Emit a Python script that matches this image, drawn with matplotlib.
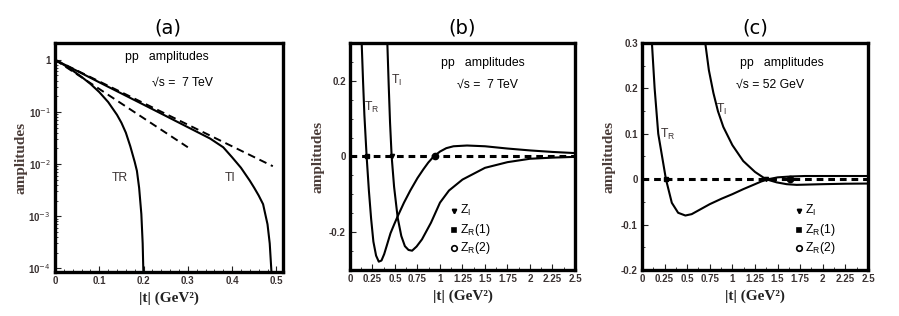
import matplotlib
matplotlib.use("Agg")
from matplotlib import pyplot as plt
from matplotlib.ticker import MultipleLocator, FixedLocator, FixedFormatter, LogLocator, NullFormatter

# ---- panel (a): log amplitudes at sqrt(s) = 7 TeV ----
a_t_R = [0, 0.02, 0.04, 0.06, 0.08, 0.10, 0.12, 0.14, 0.15, 0.16, 0.17, 0.18, 0.185, 0.19, 0.195, 0.198, 0.2]
a_T_R = [1.0, 0.80, 0.62, 0.47, 0.345, 0.24, 0.155, 0.088, 0.062, 0.040, 0.022, 0.011, 0.0074, 0.0035, 0.0011, 0.0003, 0.00006]
a_t_I = [0, 0.05, 0.1, 0.15, 0.2, 0.25, 0.3, 0.35, 0.38, 0.4, 0.42, 0.44, 0.45, 0.46, 0.47, 0.48, 0.485, 0.49]
a_T_I = [1.0, 0.61, 0.37, 0.226, 0.138, 0.084, 0.051, 0.031, 0.021, 0.0135, 0.0085, 0.0048, 0.0035, 0.0025, 0.0017, 0.0007, 0.0003, 0.00006]
a_dash_R_t = [0, 0.3]
a_dash_R = [1.0, 0.021]
a_dash_I_t = [0, 0.492]
a_dash_I = [1.0, 0.0091]
a_xticks = [0, 0.1, 0.2, 0.3, 0.4, 0.5]
a_xlabels = ["0", "0.1", "0.2", "0.3", "0.4", "0.5"]
a_yticks = [1e-4, 1e-3, 1e-2, 1e-1, 1]
a_ylabels = ["10$^{-4}$", "10$^{-3}$", "10$^{-2}$", "10$^{-1}$", "1"]

# ---- panel (b): linear amplitudes at 7 TeV ----
b_t_R = [0.13, 0.145, 0.16, 0.185, 0.21, 0.235, 0.26, 0.29, 0.32, 0.35, 0.38, 0.407, 0.45, 0.49, 0.53, 0.6, 0.67, 0.75, 0.815, 0.87, 0.93, 1.0, 1.07, 1.15, 1.3, 1.5, 1.75, 2.0, 2.25, 2.5]
b_T_R = [0.30, 0.20, 0.11, 0.0, -0.09, -0.165, -0.225, -0.262, -0.278, -0.275, -0.258, -0.237, -0.203, -0.18, -0.158, -0.122, -0.09, -0.057, -0.034, -0.016, 0.0, 0.013, 0.022, 0.027, 0.029, 0.027, 0.021, 0.016, 0.012, 0.009]
b_t_I = [0.415, 0.43, 0.445, 0.463, 0.49, 0.53, 0.57, 0.61, 0.65, 0.69, 0.74, 0.8, 0.9, 1.0, 1.1, 1.25, 1.5, 1.75, 2.0, 2.25, 2.5]
b_T_I = [0.30, 0.19, 0.09, 0.0, -0.08, -0.162, -0.21, -0.237, -0.247, -0.249, -0.238, -0.219, -0.175, -0.122, -0.09, -0.061, -0.030, -0.015, -0.006, -0.003, -0.001]
b_zeros_I = [0.463]
b_zeros_R1 = [0.185]
b_zeros_R2 = [0.944]
b_yticks = [-0.2, 0, 0.2]
b_ylabels = ["-0.2", "0", "0.2"]

# ---- panel (c): linear amplitudes at 52 GeV ----
c_t_R = [0.11, 0.14, 0.18, 0.265, 0.33, 0.40, 0.48, 0.55, 0.65, 0.75, 0.88, 1.0, 1.12, 1.25, 1.32, 1.4, 1.5, 1.65, 1.8, 2.0, 2.25, 2.5]
c_T_R = [0.30, 0.20, 0.10, 0.0, -0.052, -0.074, -0.080, -0.077, -0.066, -0.055, -0.043, -0.033, -0.022, -0.011, -0.005, 0.0, 0.004, 0.006, 0.007, 0.007, 0.007, 0.007]
c_t_I = [0.70, 0.74, 0.79, 0.84, 0.9, 1.0, 1.12, 1.25, 1.37, 1.49, 1.6, 1.71, 2.0, 2.25, 2.5]
c_T_I = [0.30, 0.24, 0.19, 0.15, 0.115, 0.075, 0.04, 0.016, 0.0, -0.007, -0.011, -0.0125, -0.011, -0.010, -0.0096]
c_zeros_I = [1.37]
c_zeros_R1 = [0.265]
c_zeros_R2 = [1.64]
c_yticks = [-0.2, -0.1, 0, 0.1, 0.2, 0.3]
c_ylabels = ["-0.2", "-0.1", "0", "0.1", "0.2", "0.3"]

lin_xticks = [0, 0.25, 0.5, 0.75, 1, 1.25, 1.5, 1.75, 2, 2.25, 2.5]
lin_xlabels = ["0", "0.25", "0.5", "0.75", "1", "1.25", "1.5", "1.75", "2", "2.25", "2.5"]

tick_font = dict(family="Liberation Sans", weight="bold", size=7)
lab_font = dict(family="Liberation Serif", weight="bold", size=11)
txt_font = dict(family="Liberation Sans", size=8.8)
ink = "#3a3232"

fig = plt.figure(figsize=(8.99, 3.16), dpi=100)
ax_a = fig.add_axes([0.0612, 0.1392, 0.2536, 0.7247])
ax_b = fig.add_axes([0.3893, 0.1456, 0.2503, 0.7184])
ax_c = fig.add_axes([0.7141, 0.1456, 0.2514, 0.7184])

def style(ax):
    for s in ax.spines.values():
        s.set_linewidth(2.4)
    ax.tick_params(which="both", direction="in", top=False, right=False, colors="#222222",
                   labelcolor=ink, pad=3)
    ax.tick_params(which="major", length=4, width=0.8)
    ax.tick_params(which="minor", length=2, width=0.6)
    for lab in ax.get_xticklabels() + ax.get_yticklabels():
        lab.set_fontfamily(tick_font["family"])
        lab.set_fontweight(tick_font["weight"])
        lab.set_fontsize(tick_font["size"])
    ax.set_xlabel("|t| (GeV\u00b2)", color="#222222", labelpad=4, **lab_font)
    ax.set_ylabel("amplitudes", color="#4a3c38", labelpad=4, **lab_font)

# (a)
ax_a.set_yscale("log")
ax_a.plot(a_t_R, a_T_R, color="black", lw=1.5)
ax_a.plot(a_t_I, a_T_I, color="black", lw=1.5)
ax_a.plot(a_dash_R_t, a_dash_R, color="black", lw=1.4, ls=(0, (4, 2.5)))
ax_a.plot(a_dash_I_t, a_dash_I, color="black", lw=1.4, ls=(0, (4, 2.5)))
ax_a.set_xlim(0, 0.515)
ax_a.set_ylim(8.5e-5, 2.1)
ax_a.set_xticks(a_xticks)
ax_a.set_xticklabels(a_xlabels)
ax_a.xaxis.set_minor_locator(MultipleLocator(0.02))
ax_a.yaxis.set_major_locator(FixedLocator(a_yticks))
ax_a.yaxis.set_major_formatter(FixedFormatter(a_ylabels))
ax_a.yaxis.set_minor_locator(LogLocator(base=10, subs=range(2, 10)))
ax_a.yaxis.set_minor_formatter(NullFormatter())
style(ax_a)
ax_a.yaxis.set_label_coords(-0.122, 0.5)
ax_a.text(0.49, 0.94, "pp   amplitudes", transform=ax_a.transAxes, ha="center", va="center", **txt_font)
ax_a.text(0.557, 0.825, "\u221as =  7 TeV", transform=ax_a.transAxes, ha="center", va="center", **txt_font)
ax_a.text(0.285, 0.41, "TR", transform=ax_a.transAxes, ha="center", va="center", color=ink, **txt_font)
ax_a.text(0.767, 0.41, "TI", transform=ax_a.transAxes, ha="center", va="center", color=ink, **txt_font)

# (b) and (c)
def linear_panel(ax, tR, TR, tI, TI, zI, zR1, zR2, ylim, ymaj, ylabels):
    ax.plot(tR, TR, color="black", lw=1.5)
    ax.plot(tI, TI, color="black", lw=1.5)
    ax.axhline(0, color="black", lw=2.2, ls=(0, (2.2, 1.6)))
    ax.plot(zI, [0] * len(zI), "v", color="black", ms=3)
    ax.plot(zR1, [0] * len(zR1), "s", color="black", ms=3)
    ax.plot(zR2, [0] * len(zR2), "o", color="black", ms=4.5)
    ax.set_xlim(0, 2.5)
    ax.set_ylim(*ylim)
    ax.set_xticks(lin_xticks)
    ax.set_xticklabels(lin_xlabels)
    ax.xaxis.set_minor_locator(MultipleLocator(0.125))
    ax.set_yticks(ymaj)
    ax.set_yticklabels(ylabels)
    ax.yaxis.set_minor_locator(MultipleLocator(0.05))
    style(ax)
    ax.yaxis.set_label_coords(-0.115, 0.5)

linear_panel(ax_b, b_t_R, b_T_R, b_t_I, b_T_I, b_zeros_I, b_zeros_R1, b_zeros_R2,
             (-0.3, 0.3), b_yticks, b_ylabels)
linear_panel(ax_c, c_t_R, c_T_R, c_t_I, c_T_I, c_zeros_I, c_zeros_R1, c_zeros_R2,
             (-0.2, 0.3), c_yticks, c_ylabels)

def labels(ax, pp_xy, s_xy, s_text, tI_xy, tR_xy, leg_x, leg_ys):
    ax.text(*pp_xy, "pp   amplitudes", transform=ax.transAxes, ha="center", va="center", **txt_font)
    ax.text(*s_xy, s_text, transform=ax.transAxes, ha="center", va="center", **txt_font)
    ax.text(*tI_xy, "T$_\\mathregular{I}$", transform=ax.transAxes, ha="center", va="center", color=ink, **txt_font)
    ax.text(*tR_xy, "T$_\\mathregular{R}$", transform=ax.transAxes, ha="center", va="center", color=ink, **txt_font)
    marks = [("v", 3, "black"), ("s", 3, "black"), ("o", 4, "none")]
    names = ["Z$_\\mathregular{I}$", "Z$_\\mathregular{R}$(1)", "Z$_\\mathregular{R}$(2)"]
    for (m, ms, fc), name, y in zip(marks, names, leg_ys):
        ax.plot([leg_x], [y], m, ms=ms, mfc=fc, mec="black", mew=1.2, transform=ax.transAxes, clip_on=False)
        ax.text(leg_x + 0.025, y, name, transform=ax.transAxes, ha="left", va="center", **txt_font)

labels(ax_b, (0.59, 0.912), (0.609, 0.815), "\u221as =  7 TeV", (0.209, 0.837), (0.098, 0.714),
       0.462, [0.261, 0.176, 0.097])
labels(ax_c, (0.619, 0.912), (0.566, 0.815), "\u221as = 52 GeV", (0.35, 0.705), (0.115, 0.595),
       0.695, [0.261, 0.176, 0.097])

for x, name in [(0.1862, "(a)"), (0.5145, "(b)"), (0.8398, "(c)")]:
    fig.text(x, 1 - 28 / 316, name, ha="center", va="center", family="DejaVu Sans", size=14)

fig.savefig("out.png", dpi=100)
